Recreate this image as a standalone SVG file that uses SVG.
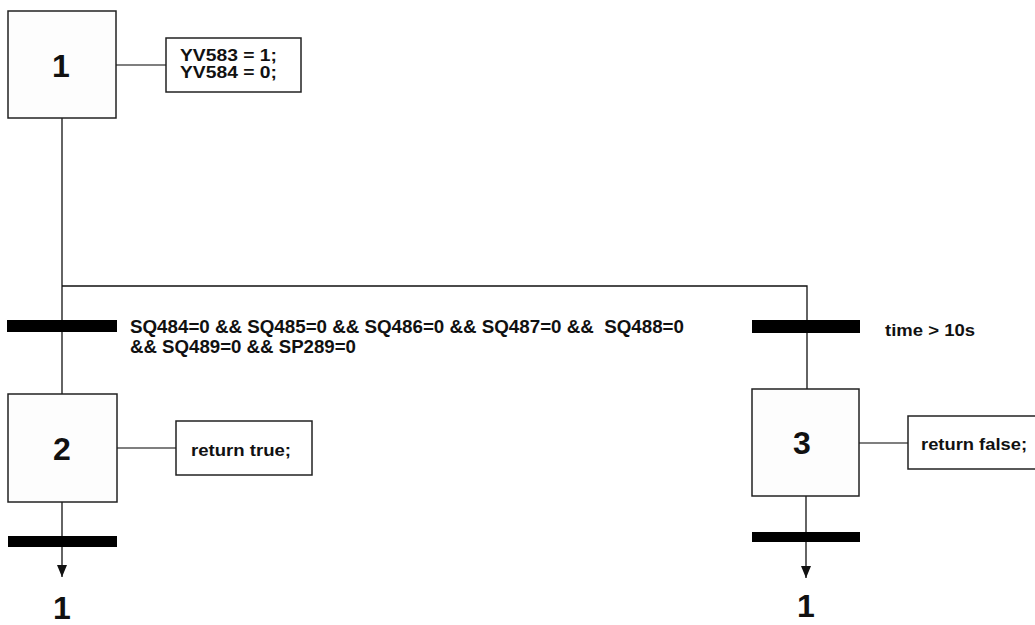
<svg xmlns="http://www.w3.org/2000/svg" width="1035" height="625" viewBox="0 0 1035 625">
<defs>
<style>
.step{fill:#fdfdfd;stroke:#222;stroke-width:1.5}
.note{fill:#fff;stroke:#222;stroke-width:1.5}
.bar{fill:#000}
.line{stroke:#111;stroke-width:1.3;fill:none}
.link{stroke:#555;stroke-width:1.5;fill:none}
.num{font-family:"Liberation Sans",Arial,sans-serif;font-weight:bold;font-size:32px;fill:#111;text-anchor:middle}
.txt{font-family:"Liberation Sans",Arial,sans-serif;font-weight:bold;font-size:16.5px;fill:#111}
.cond{font-family:"Liberation Sans",Arial,sans-serif;font-weight:bold;font-size:19px;fill:#111}
</style>
<marker id="arr" markerWidth="12" markerHeight="10" refX="12" refY="5" orient="auto" markerUnits="userSpaceOnUse" viewBox="0 0 12 10">
<path d="M0,0 L12,5 L0,10 Z" fill="#111"/>
</marker>
</defs>
<rect width="1035" height="625" fill="#fff"/>
<g id="connectors">
<line class="line" x1="62" y1="118" x2="62" y2="394"/>
<polyline class="line" points="62,286 807,286 807,389"/>
<line class="line" x1="62" y1="502" x2="62" y2="577" marker-end="url(#arr)"/>
<line class="line" x1="806" y1="496" x2="806" y2="578" marker-end="url(#arr)"/>
<line class="link" x1="116" y1="65" x2="166" y2="65"/>
<line class="link" x1="117" y1="448" x2="176" y2="448"/>
<line class="link" x1="859" y1="443" x2="908" y2="443"/>
</g>
<g id="step1">
<rect class="step" x="8" y="11" width="108" height="107"/>
<text class="num" x="61" y="77">1</text>
</g>
<g id="action1">
<rect class="note" x="166" y="38" width="135" height="54"/>
<text class="txt" x="180" y="61" textLength="97" lengthAdjust="spacingAndGlyphs">YV583 = 1;</text>
<text class="txt" x="180" y="78" textLength="97" lengthAdjust="spacingAndGlyphs">YV584 = 0;</text>
</g>
<g id="transition1">
<rect class="bar" x="7" y="320" width="110" height="12"/>
<text class="cond" x="130" y="333" xml:space="preserve" textLength="554" lengthAdjust="spacingAndGlyphs">SQ484=0 &amp;&amp; SQ485=0 &amp;&amp; SQ486=0 &amp;&amp; SQ487=0 &amp;&amp;  SQ488=0</text>
<text class="cond" x="130" y="353" textLength="226" lengthAdjust="spacingAndGlyphs">&amp;&amp; SQ489=0 &amp;&amp; SP289=0</text>
</g>
<g id="transition2">
<rect class="bar" x="752" y="320" width="108" height="13"/>
<text class="txt" x="885" y="336" textLength="90" lengthAdjust="spacingAndGlyphs">time &gt; 10s</text>
</g>
<g id="step2">
<rect class="step" x="8" y="394" width="109" height="108"/>
<text class="num" x="62" y="460">2</text>
</g>
<g id="action2">
<rect class="note" x="176" y="421" width="136" height="54"/>
<text class="txt" x="191" y="456" textLength="100" lengthAdjust="spacingAndGlyphs">return true;</text>
</g>
<g id="step3">
<rect class="step" x="752" y="389" width="107" height="107"/>
<text class="num" x="802" y="454">3</text>
</g>
<g id="action3">
<rect class="note" x="908" y="416" width="140" height="53"/>
<text class="txt" x="921" y="450" textLength="106" lengthAdjust="spacingAndGlyphs">return false;</text>
</g>
<g id="transition3">
<rect class="bar" x="8" y="536" width="109" height="11"/>
</g>
<g id="transition4">
<rect class="bar" x="752" y="532" width="108" height="10"/>
</g>
<g id="jump1">
<text class="num" x="62" y="619">1</text>
</g>
<g id="jump2">
<text class="num" x="806" y="617">1</text>
</g>
</svg>
